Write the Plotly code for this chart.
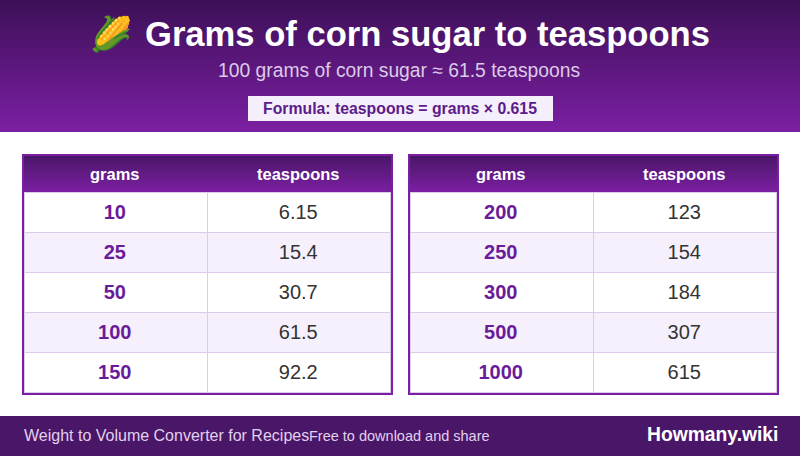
import plotly.graph_objects as go

W, H = 800, 456

grams_left = ["10", "25", "50", "100", "150"]
teaspoons_left = ["6.15", "15.4", "30.7", "61.5", "92.2"]
grams_right = ["200", "250", "300", "500", "1000"]
teaspoons_right = ["123", "154", "184", "307", "615"]
columns = ["grams", "teaspoons"]

icon = "🌽"
title = "Grams of corn sugar to teaspoons"
subtitle = "100 grams of corn sugar ≈ 61.5 teaspoons"
formula = "Formula: teaspoons = grams × 0.615"
footer_left = "Weight to Volume Converter for Recipes"
footer_mid = "Free to download and share"
brand = "Howmany.wiki"

DARK = (61, 16, 88)
DEEP = (74, 22, 104)
PURPLE = (123, 31, 162)
GRID = "#dccbeb"
STRIPE = "#f5f0fb"
FONT = "Liberation Sans"


def blend(a, b, t):
    return "rgb(%d,%d,%d)" % tuple(round(a[i] + (b[i] - a[i]) * t) for i in range(3))


def px_rect(x0, y0, x1, y1, color):
    return dict(type="rect", xref="x", yref="y", x0=x0, y0=y0, x1=x1, y1=y1, layer="below",
                fillcolor=color, line=dict(width=0))


def gradient(x0, y0, x1, y1, top, bottom):
    n = y1 - y0
    return [px_rect(x0, y0 + i, x1, y0 + i + 1, blend(top, bottom, i / (n - 1))) for i in range(n)]


def text(x, y, s, size, color, anchor="center", bold=False):
    return dict(x=x, y=y, xref="x", yref="y", text=f"<b>{s}</b>" if bold else s, showarrow=False,
                xanchor=anchor, yanchor="middle", font=dict(family=FONT, size=size, color=color))


def conv_table(x0, x1, grams, teaspoons):
    # fills and rules are drawn underneath, so the table only carries the text
    return go.Table(
        domain=dict(x=[(x0 - 1) / W, (x1 - 1) / W], y=[1 - 394 / H, 1 - 157 / H]),
        columnwidth=[184, 184],
        header=dict(values=[f"<b>{c}</b>" for c in columns], height=36,
                    fill_color="rgba(0,0,0,0)", line_color="rgba(0,0,0,0)",
                    align="center", font=dict(family=FONT, size=16.5, color="white")),
        cells=dict(values=[[f"<b>{g}</b>" for g in grams], [f"<span>{t}</span>" for t in teaspoons]],
                   height=40, fill_color="rgba(0,0,0,0)", line_color="rgba(0,0,0,0)", align="center",
                   font=dict(family=FONT, size=20, color=["#6a1b9a", "#333333"])),
    )


def table_frame(left):
    out = [px_rect(left, 154, left + 371, 395, "#7b1fa2"),
           px_rect(left + 2, 192, left + 369, 393, "white")]
    out += gradient(left + 2, 156, left + 369, 192, DEEP, PURPLE)
    for row in (1, 3):
        out.append(px_rect(left + 2, 192 + row * 40, left + 369, 232 + row * 40, STRIPE))
    for row in range(6):
        out.append(px_rect(left + 2, 192 + row * 40, left + 369, 193 + row * 40, GRID))
    for col in (2, 185, 368):
        out.append(px_rect(left + col, 192, left + col + 1, 393, GRID))
    return out


fig = go.Figure([conv_table(24, 391, grams_left, teaspoons_left),
                 conv_table(410, 777, grams_right, teaspoons_right)])

shapes = gradient(0, 0, W, 132, DARK, PURPLE)
shapes.append(px_rect(248, 96, 553, 121, "#f4effb"))
shapes.append(px_rect(0, 416, W, H, "#4a1668"))
shapes += table_frame(22) + table_frame(408)

annotations = [
    text(110.5, 34, icon, 34, "white"),
    text(427, 34, title, 34.6, "white", bold=True),
    text(399, 70, subtitle, 19.3, "#dccbe8"),
    text(400, 108.5, formula, 15.8, "#5c1a8a", bold=True),
    text(22, 435.5, footer_left, 16, "#e1d0ee", "left"),
    text(307, 435.5, footer_mid, 14.5, "#e1d0ee", "left"),
    text(780, 434.5, brand, 19.3, "white", "right", bold=True),
]

fig.update_layout(
    width=W, height=H, margin=dict(l=0, r=0, t=0, b=0), paper_bgcolor="white", plot_bgcolor="white",
    showlegend=False, shapes=shapes, annotations=annotations,
    xaxis=dict(range=[0, W], visible=False, fixedrange=True),
    yaxis=dict(range=[H, 0], visible=False, fixedrange=True),
)

fig.write_html("out.html", config=dict(displayModeBar=False),
               post_script="document.body.style.margin='0';document.body.style.overflow='hidden';")
